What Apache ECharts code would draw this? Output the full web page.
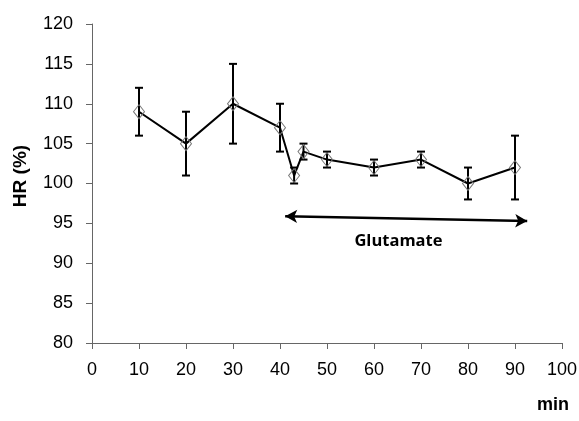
<!DOCTYPE html>
<html>
<head>
<meta charset="utf-8">
<script src="https://cdn.jsdelivr.net/npm/echarts@6/dist/echarts.min.js"></script>
<style>
html,body{margin:0;padding:0;background:#fff;}
#chart{width:579px;height:421px;}
</style>
</head>
<body>
<div id="chart"></div>
<script>
// Data
var times = [10, 20, 30, 40, 43, 45, 50, 60, 70, 80, 90];
var hrValues = [109, 105, 110, 107, 101, 104, 103, 102, 103, 100, 102];
var hrErrors = [3, 4, 5, 3, 1, 1, 1, 1, 1, 2, 4];
var yTicks = {min: 80, max: 120, interval: 5};
var xTicks = {min: 0, max: 100, interval: 10};
var arrowStart = [41.1, 95.9];
var arrowEnd = [92.6, 95.3];
var arrowLabel = 'Glutamate';
var arrowLabelPos = [65.2, 92.7];
var yTitle = 'HR (%)';
var xTitle = 'min';

var lineData = times.map(function (t, i) { return [t, hrValues[i]]; });
var errData = times.map(function (t, i) { return [t, hrValues[i] - hrErrors[i], hrValues[i] + hrErrors[i]]; });

var chart = echarts.init(document.getElementById('chart'), null, {renderer: 'canvas'});
var axisColor = '#666';

chart.setOption({
  animation: false,
  backgroundColor: '#fff',
  grid: {left: 92, right: 17, top: 24, bottom: 78, outerBoundsMode: 'none', containLabel: false},
  xAxis: {
    type: 'value', min: xTicks.min, max: xTicks.max, interval: xTicks.interval,
    axisLine: {show: true, lineStyle: {color: axisColor, width: 1}},
    axisTick: {show: true, length: 6, lineStyle: {color: axisColor}},
    axisLabel: {margin: 18, fontFamily: 'Liberation Sans', fontSize: 18, color: '#000'},
    splitLine: {show: false}
  },
  yAxis: {
    type: 'value', min: yTicks.min, max: yTicks.max, interval: yTicks.interval,
    axisLine: {show: true, lineStyle: {color: axisColor, width: 1}},
    axisTick: {show: true, length: 6, lineStyle: {color: axisColor}},
    axisLabel: {margin: 19, fontFamily: 'Liberation Sans', fontSize: 18, color: '#000'},
    splitLine: {show: false}
  },
  graphic: [
    {type: 'text', x: 21, y: 176, rotation: Math.PI / 2,
     style: {text: yTitle, font: 'bold 19px "Liberation Sans"', fill: '#000', textAlign: 'center', textVerticalAlign: 'middle'}},
    {type: 'text', x: 553, y: 405,
     style: {text: xTitle, font: 'bold 18px "Liberation Sans"', fill: '#000', textAlign: 'center', textVerticalAlign: 'middle'}}
  ],
  series: [
    {
      type: 'custom',
      z: 2,
      data: errData,
      renderItem: function (params, api) {
        var x = api.value(0);
        var lo = api.coord([x, api.value(1)]);
        var hi = api.coord([x, api.value(2)]);
        var hw = 4;
        var st = {stroke: '#000', lineWidth: 2};
        return {
          type: 'group',
          children: [
            {type: 'line', shape: {x1: lo[0], y1: lo[1], x2: hi[0], y2: hi[1]}, style: st},
            {type: 'line', shape: {x1: lo[0] - hw, y1: lo[1], x2: lo[0] + hw, y2: lo[1]}, style: st},
            {type: 'line', shape: {x1: hi[0] - hw, y1: hi[1], x2: hi[0] + hw, y2: hi[1]}, style: st}
          ]
        };
      }
    },
    {
      type: 'line',
      z: 3,
      data: lineData,
      symbol: 'diamond',
      symbolSize: [11, 14],
      showAllSymbol: true,
      lineStyle: {color: '#000', width: 2},
      itemStyle: {color: 'rgba(255,255,255,0)', borderColor: '#777', borderWidth: 1},
      markLine: {
        silent: true,
        symbol: ['arrow', 'arrow'],
        symbolSize: [10, 12],
        label: {show: false},
        lineStyle: {color: '#000', width: 2.5, type: 'solid'},
        data: [[{coord: arrowStart}, {coord: arrowEnd}]]
      }
    },
    {
      type: 'scatter',
      z: 4,
      symbolSize: 0,
      data: [arrowLabelPos],
      label: {
        show: true, position: 'inside', formatter: arrowLabel,
        fontFamily: 'Open Sans', fontWeight: 'bold', fontSize: 16.5, color: '#000', opacity: 1
      }
    }
  ]
});
</script>
</body>
</html>
